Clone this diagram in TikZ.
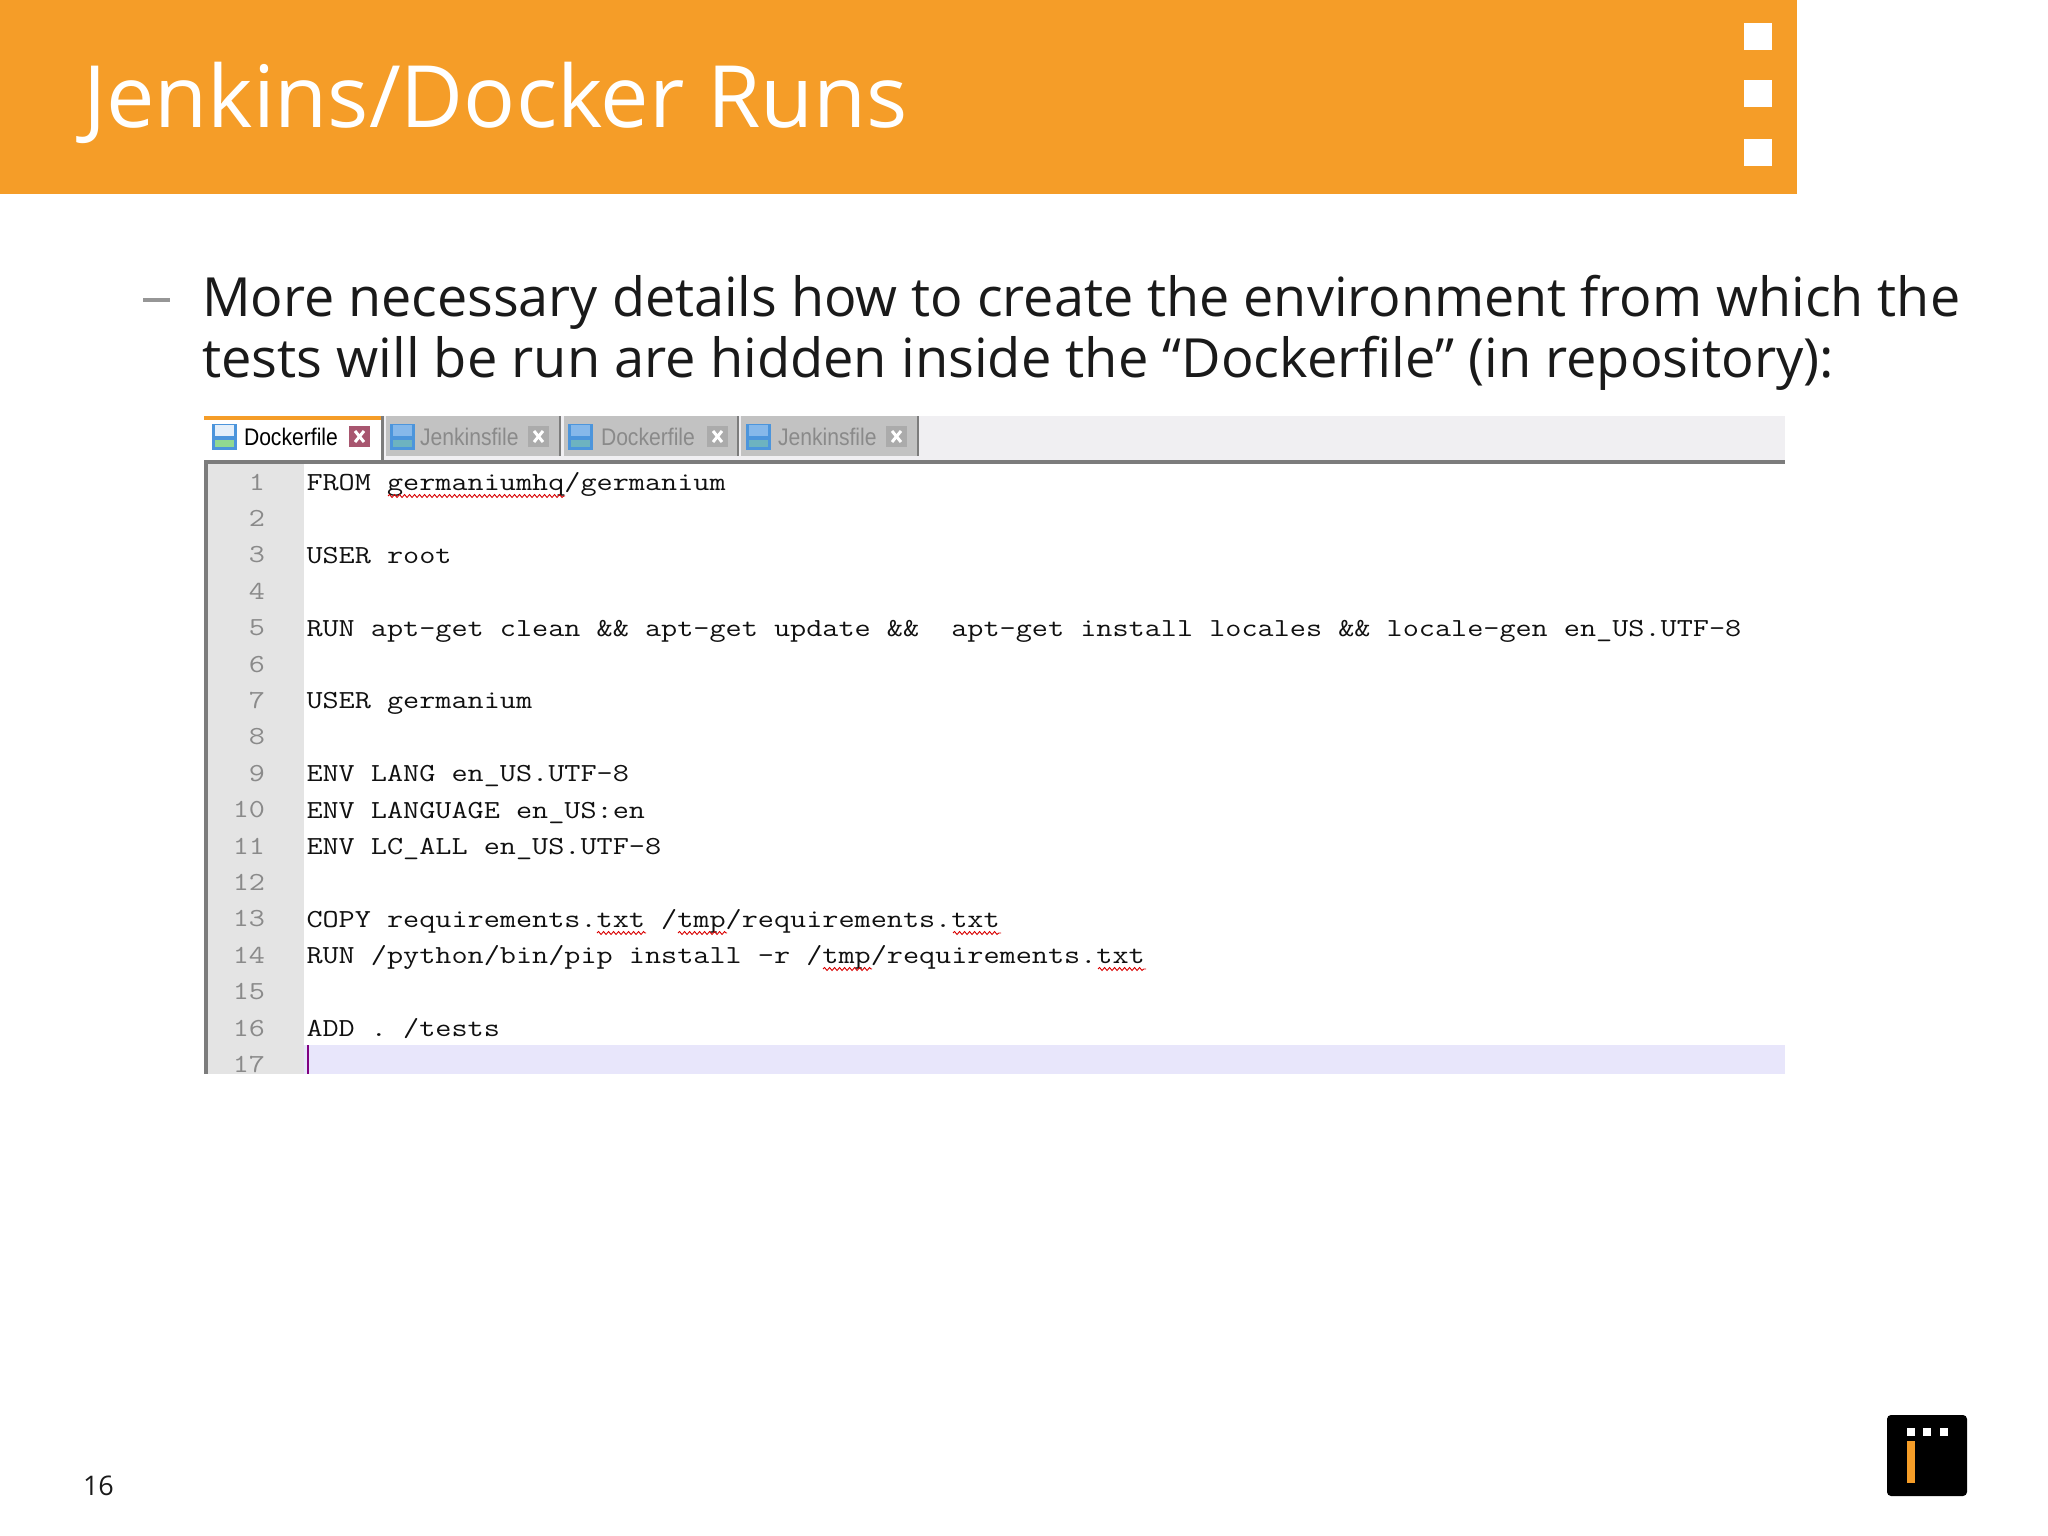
\documentclass[tikz,border=0pt]{standalone}
\usepackage{fontspec}
\setmainfont{Open Sans}
\newfontfamily\tabfont{Liberation Sans}
\usetikzlibrary{decorations.pathmorphing}
\definecolor{barorange}{HTML}{F59D28}
\definecolor{tabgray}{HTML}{C2C2C2}
\definecolor{tabedge}{HTML}{7C7C7C}
\definecolor{barbg}{HTML}{F0EFF2}
\definecolor{gutter}{HTML}{E4E4E4}
\definecolor{hiline}{HTML}{E8E6FB}
\definecolor{numgray}{HTML}{8A8A8A}
\definecolor{codeink}{HTML}{111111}
\definecolor{iconblue}{HTML}{4C95DC}
\definecolor{iconlight}{HTML}{86B8EA}
\definecolor{iconlow}{HTML}{6DB3C0}
\definecolor{closeact}{HTML}{A8566F}
\definecolor{closeoff}{HTML}{ABABAB}
\definecolor{bodyink}{HTML}{1A1A1A}
\tikzset{
  every node/.style={inner sep=0pt,outer sep=0pt},
  titletext/.style={anchor=base west,xscale=1.005,text=white,font=\fontsize{86}{86}\selectfont},
  bodytext/.style={anchor=base west,text=bodyink,font=\fontsize{54}{62}\selectfont},
  codetext/.style={anchor=base west,xscale=1.204,text=codeink,font=\ttfamily\fontsize{26}{26}\selectfont\frenchspacing},
  numtext/.style={anchor=base east,xscale=1.204,text=numgray,font=\ttfamily\fontsize{26}{26}\selectfont},
  tabtext/.style={anchor=base west,xscale=0.88,font=\tabfont\fontsize{24}{24}\selectfont},
  squiggle/.style={draw=red!85!black,line width=0.9pt,decorate,decoration={snake,segment length=5pt,amplitude=1.5pt}},
}
\begin{document}
\begin{tikzpicture}[x=1pt,y=-1pt]
\useasboundingbox (0,0) rectangle (2048,1536);
\fill[white] (0,0) rectangle (2048,1536);
% header
\fill[barorange] (0,0) rectangle (1797,194);
\foreach \yy in {23,80,139}{\fill[white] (1744,\yy) rectangle +(28,27);}
\node[titletext] (title) at (83,128) {Jenkins/Docker Runs};
% body
\fill[numgray!90] (143,298) rectangle (170,302);
\node[bodytext,xscale=0.998] (lineone) at (202,316) {More necessary details how to create the environment from which the};
\node[bodytext,xscale=1.004] (linetwo) at (202,377) {tests will be run are hidden inside the “Dockerfile” (in repository):};
% tab bar
\fill[barbg] (204,416) rectangle (1785,460);
\fill[white] (204,420) rectangle (381,460);
\fill[barorange] (204,416) rectangle (384,420);
\fill[tabedge] (381,416) rectangle (384,460);
\foreach \xa/\xb in {386/559,564/737,741/917}{
  \fill[tabgray] (\xa,416) rectangle (\xb,456);
  \fill[tabedge] (\xb,416) rectangle (\xb+2,456);
}
% save icons
\fill[iconblue] (212,424) rectangle +(25,26);
\fill[white!85!iconblue] (215,425) rectangle +(19,11);
\fill[white!60!green!70!gray] (215,440) rectangle (234,447);
\foreach \xi in {390,568,746}{
  \fill[iconblue] (\xi,424) rectangle +(25,26);
  \fill[iconlight] (\xi+3,425) rectangle +(19,11);
  \fill[iconlow] (\xi+3,440) rectangle +(19,7);
}
% close boxes
\foreach \xc/\col in {349/closeact,528/closeoff,707/closeoff,886/closeoff}{
  \fill[\col] (\xc,426) rectangle +(21,21);
  \draw[white,line width=3pt] (\xc+6,431) -- +(9,11) (\xc+15,431) -- +(-9,11);
}
\node[tabtext,text=black] (tabone) at (244,445) {Dockerfile};
\node[tabtext,text=numgray] (tabtwo) at (420,445) {Jenkinsfile};
\node[tabtext,text=numgray] (tabthree) at (601,445) {Dockerfile};
\node[tabtext,text=numgray] (tabfour) at (778,445) {Jenkinsfile};
% editor frame
\fill[tabedge] (204,460) rectangle (1785,464);
\fill[tabedge] (204,460) rectangle (208,1074);
\fill[gutter] (208,464) rectangle (304,1074);
\fill[hiline] (304,1045) rectangle (1785,1074);
\fill[violet] (307,1045) rectangle (309,1074);
% line numbers
\foreach \n in {1,...,17}{
  \node[numtext] (num\n) at (265,{490+(\n-1)*36.4}) {\n};
}
% code
\node[codetext] (c1) at (306.5,490) {FROM germaniumhq/germanium};
\node[codetext] (c3) at (306.5,563) {USER root};
\node[codetext] (c5) at (306.5,636) {RUN apt-get clean \&\& apt-get update \&\&\ \ apt-get install locales \&\& locale-gen en\_US.UTF-8};
\node[codetext] (c7) at (306.5,708) {USER germanium};
\node[codetext] (c9) at (306.5,781) {ENV LANG en\_US.UTF-8};
\node[codetext] (c10) at (306.5,818) {ENV LANGUAGE en\_US:en};
\node[codetext] (c11) at (306.5,854) {ENV LC\_ALL en\_US.UTF-8};
\node[codetext] (c13) at (306.5,927) {COPY requirements.txt /tmp/requirements.txt};
\node[codetext] (c14) at (306.5,963) {RUN /python/bin/pip install -r /tmp/requirements.txt};
\node[codetext] (c16) at (306.5,1036) {ADD . /tests};
% spell-check marks
\draw[squiggle] (388,496) -- (565,496);
\draw[squiggle] (597,933) -- (646,933);
\draw[squiggle] (678,933) -- (727,933);
\draw[squiggle] (953,933) -- (1001,933);
\draw[squiggle] (823,969) -- (872,969);
\draw[squiggle] (1098,969) -- (1146,969);
% footer
\node[anchor=base west,text=bodyink,font=\fontsize{27}{27}\selectfont] (pagenum) at (83,1495) {16};
\fill[black,rounded corners=4pt] (1887,1415) rectangle (1967,1496);
\foreach \xs in {1907,1923,1940}{\fill[white] (\xs,1428) rectangle +(8,8);}
\fill[barorange] (1907,1441) rectangle (1915,1483);
\end{tikzpicture}
\end{document}
